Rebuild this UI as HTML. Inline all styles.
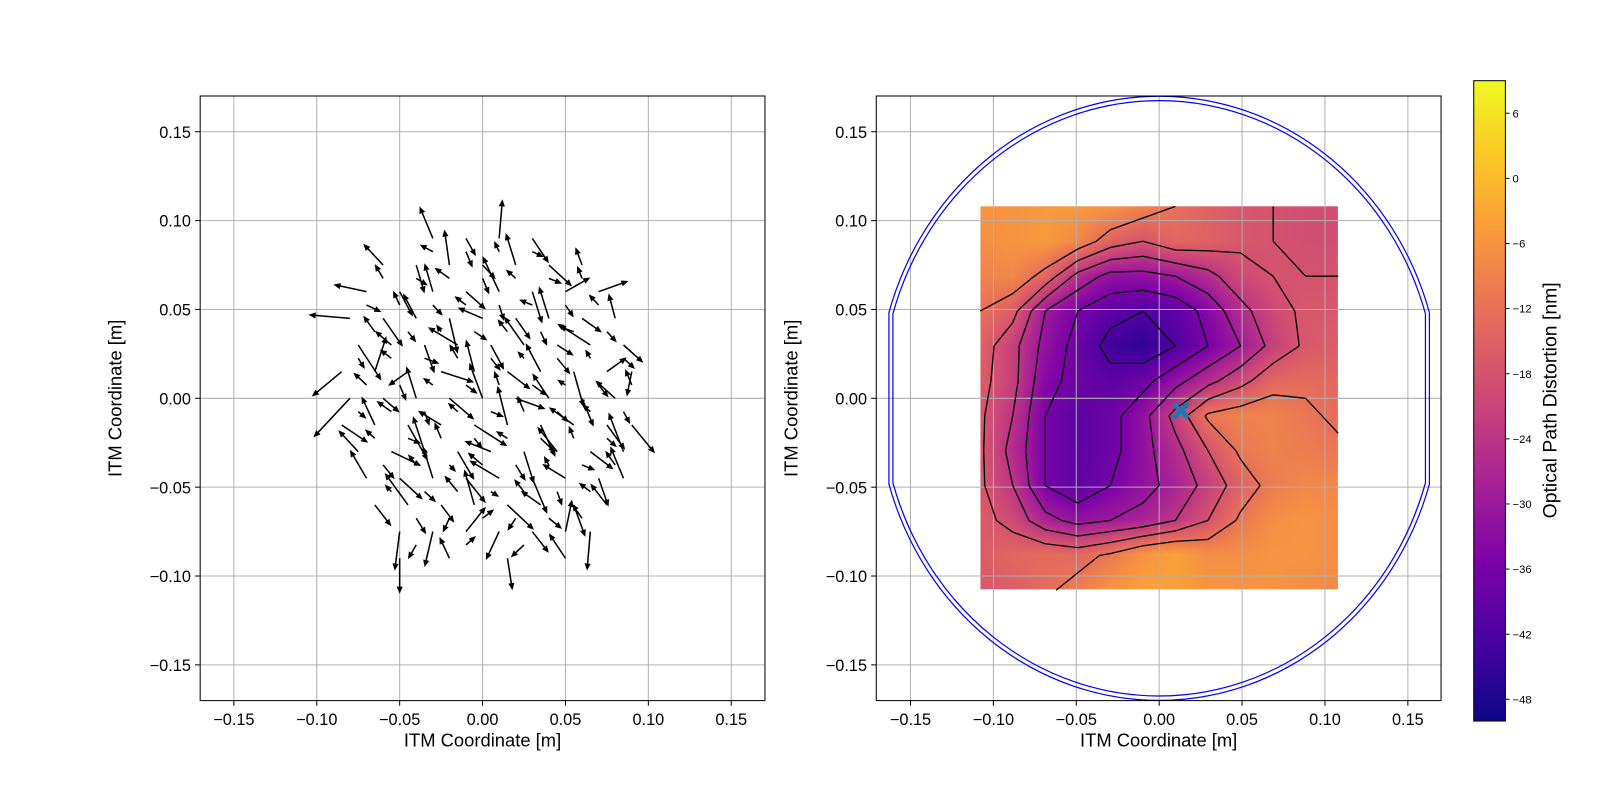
<!DOCTYPE html>
<html><head><meta charset="utf-8"><style>
html,body{margin:0;padding:0;background:#fff;width:1600px;height:800px;overflow:hidden;}
#wrap{position:relative;width:1600px;height:800px;overflow:hidden;font-family:"Liberation Sans",sans-serif;transform:scale(1.0213);transform-origin:0 0;}
canvas{position:absolute;display:block;}
svg{position:absolute;left:0;top:0;display:block;}
</style></head><body>
<div id="wrap">
<canvas id="heat" width="350" height="375" style="left:960px;top:202px"></canvas>
<canvas id="cbar" width="31" height="627" style="left:1443px;top:79px"></canvas>
<svg id="svg" width="1600" height="800"></svg>
</div>
<script>
// ---- Data ----
const heatXs = [-0.108,-0.0884,-0.0687,-0.0491,-0.0295,-0.0098,0.0098,0.0295,0.0491,0.0687,0.0884,0.108];
const heatYs = [0.108,0.0884,0.0687,0.0491,0.0295,0.0098,-0.0098,-0.0295,-0.0491,-0.0687,-0.0884,-0.108];
const heatVals = [
[-6,-6,-5,-5,-6,-9,-12,-15,-17,-18,-19,-19],
[-7,-6,-5,-8,-15,-18,-14,-15,-17,-18,-19,-19],
[-9,-8,-14,-26,-32,-32,-30,-26,-20,-18,-18,-18],
[-12,-16,-30,-36,-40,-42,-40,-34,-26,-20,-17,-17],
[-15,-22,-32,-38,-44,-46,-42,-36,-30,-22,-17,-16],
[-16,-22,-34,-38,-40,-38,-32,-26,-20,-14,-13,-14],
[-17,-24,-36,-40,-38,-32,-22,-11,-9,-9,-11,-13],
[-17,-26,-36,-40,-38,-32,-26,-18,-11,-9,-10,-11],
[-17,-24,-36,-40,-36,-32,-28,-22,-15,-10,-8,-8],
[-16,-20,-28,-32,-30,-28,-24,-18,-11,-7,-6,-7],
[-16,-14,-13,-14,-11,-6,-4,-7,-7,-6,-6,-7],
[-17,-16,-13,-10,-6,-4,-4,-6,-6,-6,-7,-8]];
const contourLevels = [-42,-36,-30,-24,-18,-12];
const cbarMin = -50, cbarMax = 9;
const cbarTicks = [6,0,-6,-12,-18,-24,-30,-36,-42,-48];
const axisTicks = [-0.15,-0.10,-0.05,0.00,0.05,0.10,0.15];
const axisTickLabels = ["\u22120.15","\u22120.10","\u22120.05","0.00","0.05","0.10","0.15"];
const markerPos = [0.013,-0.007];
const quiverRowY = [0.09,0.075,0.06,0.045,0.03,0.015,0,-0.015,-0.03,-0.045,-0.06,-0.075,-0.09];
const quiverRowX = [
[-0.03,-0.01,0.01,0.03],
[-0.06,-0.04,-0.02,0,0.02,0.04,0.06],
[-0.07,-0.05,-0.03,-0.01,0.01,0.03,0.05,0.07],
[-0.08,-0.06,-0.04,-0.02,0,0.02,0.04,0.06,0.08],
[-0.075,-0.055,-0.035,-0.015,0.005,0.025,0.045,0.065,0.085],
[-0.085,-0.065,-0.045,-0.025,-0.005,0.015,0.035,0.055,0.075,0.09],
[-0.08,-0.06,-0.04,-0.02,0,0.02,0.04,0.06,0.08],
[-0.085,-0.065,-0.045,-0.025,-0.005,0.015,0.035,0.055,0.075,0.09],
[-0.075,-0.055,-0.035,-0.015,0.005,0.025,0.045,0.065,0.085],
[-0.07,-0.05,-0.03,-0.01,0.01,0.03,0.05,0.07,0.085],
[-0.065,-0.045,-0.025,-0.005,0.015,0.035,0.055,0.075],
[-0.05,-0.03,-0.01,0.01,0.03,0.05,0.065],
[-0.05,-0.02,0.015,0.05]];
const quiverU = [-8,6,2,10, -12,5,-3,8,-6,14,-4, -20,8,-5,12,-10,6,15,18, -25,12,-8,5,-15,9,-6,12,-4, 14,-10,6,-18,8,-12,10,-20,12,
 -18,7,-12,20,-5,14,-9,6,12,-3, -22,10,-6,15,-8,18,-10,7,-12, 16,-8,12,-14,20,-6,9,-15,11,14,
 -12,18,-7,10,-16,6,-12,14,-9, -10,14,-6,12,-18,9,-14,6,-8, 10,-14,8,-6,16,-12,7,-10, -3,-5,12,-8,10,4,-2, 0,-6,3,-10];
const quiverV = [18,-10,22,-14, 12,-16,20,-8,18,-12,10, 4,-14,16,-10,20,-18,8,6, 2,-16,14,-20,6,-12,18,-8,14, -20,8,-16,10,-14,16,-6,12,-10,
 -14,20,-8,-6,18,-10,16,-20,8,-14, -22,-8,18,-12,20,-6,14,-16,10, -10,16,-20,8,-12,22,-18,10,-14,-16,
 12,-8,20,-16,6,-18,14,-10,22, 16,-12,18,-14,10,-20,8,-16,18, -12,18,-10,20,-14,8,-18,12, -22,-20,14,-16,-12,18,-22, -20,12,-18,14];
const quiverU2 = [6,-4,9,-7, 5,-8,4,-3,7,-6,3, -5,7,-9,4,-6,8,-3,5, 9,-4,6,-7,3,-8,5,-6,4, -7,5,-3,8,-6,4,-9,6,-5,
 4,-7,9,-5,6,-4,8,-3,7,-6, -8,4,-6,7,-3,9,-5,6,-4, 5,-9,3,-6,8,-4,7,-5,4,-7,
 -6,8,-4,5,-7,9,-3,6,-8, 7,-5,4,-9,6,-3,8,-6,5, -4,7,-8,5,-6,3,-7,9, 6,-4,7,-5,8,-6,4, -5,6,-8,4];
const quiverV2 = [-7,9,-5,6, -8,4,-9,6,-3,7,-5, 8,-4,6,-9,5,-3,7,-6, -4,8,-6,5,-9,3,-7,6,-5, 9,-6,4,-5,7,-8,3,-6,8,
 -6,5,-3,8,-7,4,-9,5,-6,3, 7,-9,4,-5,8,-6,3,-7,9, -4,6,-8,5,-3,9,-6,4,-7,8,
 5,-3,9,-6,4,-8,7,-5,3, -8,6,-4,7,-9,5,-3,8,-6, 4,-6,9,-3,7,-8,5,-4, -9,-8,5,-7,-6,8,-9, -8,5,-7,6];

// ---- Helpers ----
const NS="http://www.w3.org/2000/svg";
const svg=document.getElementById('svg');
function mk(tag,attrs,parent){const e=document.createElementNS(NS,tag);for(const k in attrs)e.setAttribute(k,attrs[k]);(parent||svg).appendChild(e);return e;}
const PX=1623.3, PY=1740;
const L={x0:472.5,y0:390,left:196,right:749,top:94,bottom:686};
const R={x0:1135,y0:390,left:858,right:1411,top:94,bottom:686};
function sx(ax,v){return ax.x0+v*PX;}
function sy(ax,v){return ax.y0-v*PY;}
const plasma=[[13,8,135],[76,2,161],[126,3,168],[169,35,149],[204,71,120],[229,107,93],[248,149,64],[253,197,39],[240,249,33]];
function cmap(t){t=Math.max(0,Math.min(1,t));const f=t*8,i=Math.min(7,Math.floor(f)),r=f-i;const a=plasma[i],b=plasma[i+1];return [a[0]+(b[0]-a[0])*r,a[1]+(b[1]-a[1])*r,a[2]+(b[2]-a[2])*r];}
function norm(v){return (v-cbarMin)/(cbarMax-cbarMin);}

// ---- Heatmap ----
(function(){
 const c=document.getElementById('heat'),ctx=c.getContext('2d');const W=c.width,H=c.height;
 const img=ctx.createImageData(W,H);const n=heatXs.length,m=heatYs.length;
 for(let py=0;py<H;py++){const gy=py/(H-1)*(m-1);const j=Math.min(m-2,Math.floor(gy)),fy=gy-j;
  for(let px=0;px<W;px++){const gx=px/(W-1)*(n-1);const i=Math.min(n-2,Math.floor(gx)),fx=gx-i;
   const v=heatVals[j][i]*(1-fx)*(1-fy)+heatVals[j][i+1]*fx*(1-fy)+heatVals[j+1][i]*(1-fx)*fy+heatVals[j+1][i+1]*fx*fy;
   const col=cmap(norm(v));const k=(py*W+px)*4;img.data[k]=col[0];img.data[k+1]=col[1];img.data[k+2]=col[2];img.data[k+3]=255;}}
 ctx.putImageData(img,0,0);
 const cb=document.getElementById('cbar'),cx=cb.getContext('2d');
 for(let y=0;y<cb.height;y++){const col=cmap(1-y/(cb.height-1));cx.fillStyle=`rgb(${col[0]|0},${col[1]|0},${col[2]|0})`;cx.fillRect(0,y,cb.width,1);}
})();

// ---- Axes ----
function drawAxes(ax,name){
 const g=mk('g',{});
 axisTicks.forEach((t,k)=>{
  mk('line',{x1:sx(ax,t),x2:sx(ax,t),y1:ax.top,y2:ax.bottom,stroke:'#b0b0b0','stroke-width':1},g);
  mk('line',{x1:ax.left,x2:ax.right,y1:sy(ax,t),y2:sy(ax,t),stroke:'#b0b0b0','stroke-width':1},g);
  mk('line',{x1:sx(ax,t),x2:sx(ax,t),y1:ax.bottom,y2:ax.bottom+5,stroke:'#000'},g);
  mk('line',{x1:ax.left-5,x2:ax.left,y1:sy(ax,t),y2:sy(ax,t),stroke:'#000'},g);
  const tx=mk('text',{x:sx(ax,t),y:ax.bottom+24,'text-anchor':'middle','font-size':16},g);tx.textContent=axisTickLabels[k];
  
  const ty=mk('text',{x:ax.left-9,y:sy(ax,t)+6,'text-anchor':'end','font-size':16},g);ty.textContent=axisTickLabels[k];
  
 });
 const xl=mk('text',{x:(ax.left+ax.right)/2,y:731,'text-anchor':'middle','font-size':18});xl.textContent='ITM Coordinate [m]';
 
 const yx=ax.left-77;
 const yl=mk('text',{x:yx,y:390,'text-anchor':'middle','font-size':18,transform:`rotate(-90 ${yx} 390)`});yl.textContent='ITM Coordinate [m]';
 
}
function frame(ax,name){const r=mk('rect',{x:ax.left,y:ax.top,width:ax.right-ax.left,height:ax.bottom-ax.top,fill:'none',stroke:'#000','stroke-width':1});
 }
drawAxes(L,'quiver');drawAxes(R,'distortion');

// ---- Quiver ----
(function(){
 const g=mk('g',{});
 function arrow(x,y,u,v){
  const x1=sx(L,x),y1=sy(L,y),x2=sx(L,x+u),y2=sy(L,y+v);
  const dx=x2-x1,dy=y2-y1,len=Math.hypot(dx,dy)||1,ux=dx/len,uy=dy/len;
  const a=mk('g',{},g);
  mk('line',{x1:x1,y1:y1,x2:x2-ux*4,y2:y2-uy*4,stroke:'#000','stroke-width':1.5},a);
  mk('polygon',{points:`${x2},${y2} ${x2-ux*7-uy*3},${y2-uy*7+ux*3} ${x2-ux*7+uy*3},${y2-uy*7-ux*3}`,fill:'#000'},a);
 }
 let k=0;
 quiverRowY.forEach((y,r)=>{quiverRowX[r].forEach(x=>{
  arrow(x,y,quiverU[k%quiverU.length]*0.001,quiverV[k%quiverV.length]*0.001);
  if(Math.hypot(x+0.01,y+0.0075)<0.092) arrow(x+0.01,y+0.0075,quiverU2[k%quiverU2.length]*0.001,quiverV2[k%quiverV2.length]*0.001);
  k++;
 });});
})();
frame(L,'quiver');

// ---- Contours (marching squares) ----
(function(){
 const g=mk('g',{fill:'none',stroke:'#000','stroke-width':1.3});
 const n=heatXs.length,m=heatYs.length;
 contourLevels.forEach(lv=>{
  let d='';
  for(let j=0;j<m-1;j++)for(let i=0;i<n-1;i++){
   const c=[[i,j],[i+1,j],[i+1,j+1],[i,j+1]];const vals=c.map(p=>heatVals[p[1]][p[0]]);
   const pts=[];
   for(let e=0;e<4;e++){const a=vals[e],b=vals[(e+1)%4];if((a<lv)!==(b<lv)){const t=(lv-a)/(b-a);const pa=c[e],pb=c[(e+1)%4];
     const gx=pa[0]+(pb[0]-pa[0])*t,gy=pa[1]+(pb[1]-pa[1])*t;
     const X=heatXs[0]+(heatXs[n-1]-heatXs[0])*gx/(n-1),Y=heatYs[0]+(heatYs[m-1]-heatYs[0])*gy/(m-1);
     pts.push([sx(R,X),sy(R,Y)]);}}
   for(let q=0;q+1<pts.length;q+=2)d+=`M${pts[q][0].toFixed(1)},${pts[q][1].toFixed(1)}L${pts[q+1][0].toFixed(1)},${pts[q+1][1].toFixed(1)}`;
  }
  const p=mk('path',{d:d},g);
 });
})();

// ---- Mirror outline ----
(function(){
 const g=mk('g',{fill:'none',stroke:'#0000ff','stroke-width':1.2});
 [0.170,0.1675].forEach(rr=>{
  const f=0.163*rr/0.170;const h=Math.sqrt(rr*rr-f*f);
  const rx=rr*PX,ry=rr*PY;
  const d=`M${sx(R,f)},${sy(R,h)} A${rx},${ry} 0 0 0 ${sx(R,-f)},${sy(R,h)} L${sx(R,-f)},${sy(R,-h)} A${rx},${ry} 0 0 0 ${sx(R,f)},${sy(R,-h)} Z`;
  mk('path',{d:d},g);
 });
})();
// marker
(function(){const x=sx(R,markerPos[0]),y=sy(R,markerPos[1]);
 const m=mk('g',{stroke:'#1f77b4','stroke-width':5,'stroke-linecap':'butt'});
 mk('line',{x1:x-7,y1:y-7,x2:x+7,y2:y+7},m);mk('line',{x1:x-7,y1:y+7,x2:x+7,y2:y-7},m);})();
frame(R,'distortion');

// ---- Colorbar ----
(function(){
 const g=mk('g',{});
 mk('rect',{x:1443,y:79,width:31,height:627,fill:'none',stroke:'#000'},g);
 const top=79,h=627;
 cbarTicks.forEach(t=>{const y=top+(cbarMax-t)/(cbarMax-cbarMin)*h;
  mk('line',{x1:1474,x2:1478,y1:y,y2:y,stroke:'#000'},g);
  const tx=mk('text',{x:1481,y:y+4,'font-size':11},g);tx.textContent=t<0?'\u2212'+(-t):String(t);
  });
 const lb=mk('text',{x:1524,y:392,'text-anchor':'middle','font-size':19,transform:'rotate(-90 1524 392)'},g);lb.textContent='Optical Path Distortion [nm]';
 
})();
</script>
</body></html>
